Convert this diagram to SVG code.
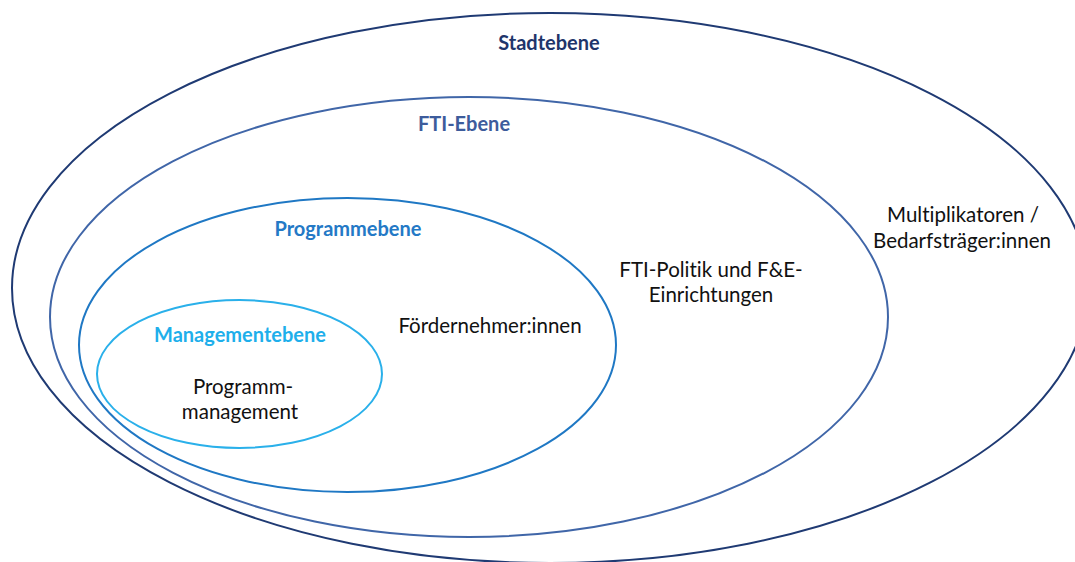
<svg xmlns="http://www.w3.org/2000/svg" width="1075" height="562" viewBox="0 0 1075 562">
<style>
.e{fill:none;stroke-width:2}
.t{font-family:Lato,"Liberation Sans",sans-serif;font-size:20.5px;fill:#111;text-anchor:middle;font-variant-ligatures:none}
.h{font-family:Lato,"Liberation Sans",sans-serif;font-size:20px;font-weight:bold;text-anchor:middle;font-variant-ligatures:none}
</style>
<rect width="1075" height="562" fill="#fff"/>
<g id="stadtebene">
<ellipse class="e" cx="550" cy="288" rx="538" ry="275" stroke="#1F3A73"/>
<text class="h" x="549" y="50" fill="#1F356B">Stadtebene</text>
<text class="t" x="963" y="222">Multiplikatoren /</text>
<text class="t" x="962" y="248">Bedarfsträger:innen</text>
</g>
<g id="fti-ebene">
<ellipse class="e" cx="469" cy="317" rx="419" ry="220" stroke="#4066A8"/>
<text class="h" x="464" y="131" fill="#3D5C9C">FTI-Ebene</text>
<text class="t" x="711" y="277">FTI-Politik und F&amp;E-</text>
<text class="t" x="711" y="302">Einrichtungen</text>
</g>
<g id="programmebene">
<ellipse class="e" cx="347.5" cy="345" rx="268.5" ry="147" stroke="#1F78C4"/>
<text class="h" x="348" y="236" fill="#2479C6">Programmebene</text>
<text class="t" x="490" y="333">Fördernehmer:innen</text>
</g>
<g id="managementebene">
<ellipse class="e" cx="239.5" cy="374" rx="142.5" ry="74" stroke="#2AB0EA"/>
<text class="h" x="240" y="342" fill="#1EAFEB">Managementebene</text>
<text class="t" x="243" y="394">Programm-</text>
<text class="t" x="240" y="419">management</text>
</g>
<g id="connectors"/>
</svg>
